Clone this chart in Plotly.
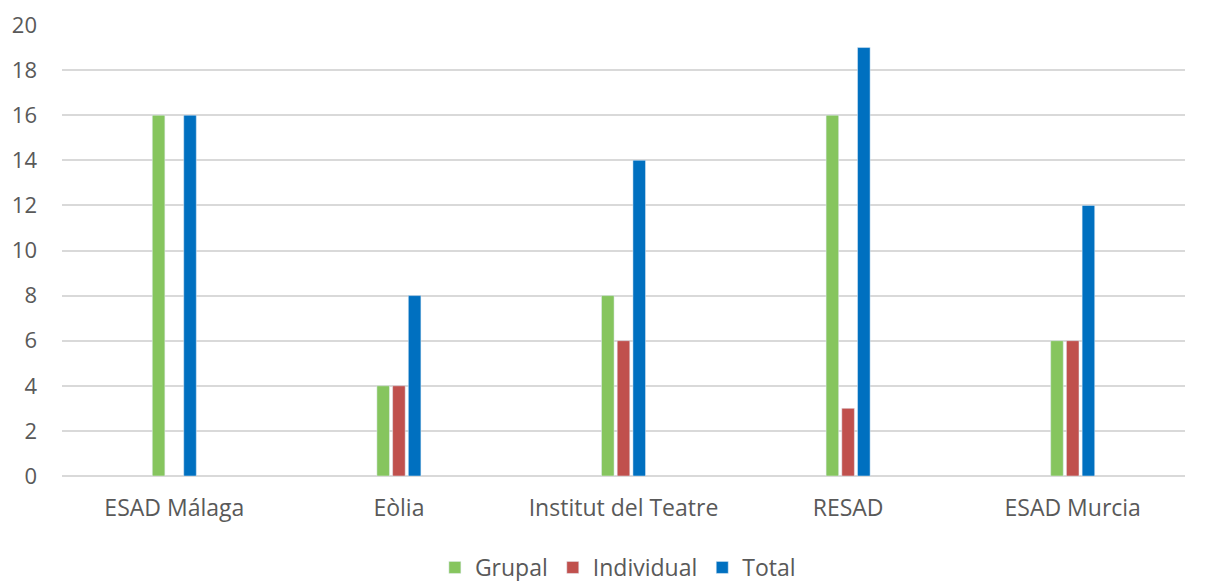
import plotly.graph_objects as go

categories = ["ESAD Málaga", "Eòlia", "Institut del Teatre", "RESAD", "ESAD Murcia"]
grupal = [16, 4, 8, 16, 6]
individual = [None, 4, 6, 3, 6]
total = [16, 8, 14, 19, 12]
y_ticks = list(range(0, 21, 2))

fig = go.Figure()
fig.add_trace(go.Bar(name="Grupal", x=categories, y=grupal, marker_color="#86C55E"))
fig.add_trace(go.Bar(name="Individual", x=categories, y=individual, marker_color="#C0504D"))
fig.add_trace(go.Bar(name="Total", x=categories, y=total, marker_color="#0070C0"))

fig.update_layout(
    width=1225, height=581,
    margin=dict(l=54, r=48, t=17, b=113),
    paper_bgcolor="white", plot_bgcolor="white",
    barmode="group", bargap=0.79, bargroupgap=0.2,
    font=dict(family="Open Sans, Noto Sans, sans-serif", size=22, color="#595959"),
    legend=dict(orientation="h", x=0.495, xanchor="center", xref="paper",
                y=0.0, yanchor="bottom", yref="container",
                font=dict(size=23, color="#595959"), itemwidth=30, tracegroupgap=0),
    xaxis=dict(showgrid=False, showline=False, ticks="", tickfont=dict(size=23),
               ticklabelstandoff=16, automargin=False),
    yaxis=dict(range=[0, 20], tickvals=y_ticks, showgrid=True, gridcolor="#D9D9D9",
               gridwidth=1.5, zeroline=True, zerolinecolor="#D9D9D9", zerolinewidth=1.5,
               ticks="", ticklabelstandoff=24, tickfont=dict(size=22), automargin=False),
)

fig.write_html("out.html")
